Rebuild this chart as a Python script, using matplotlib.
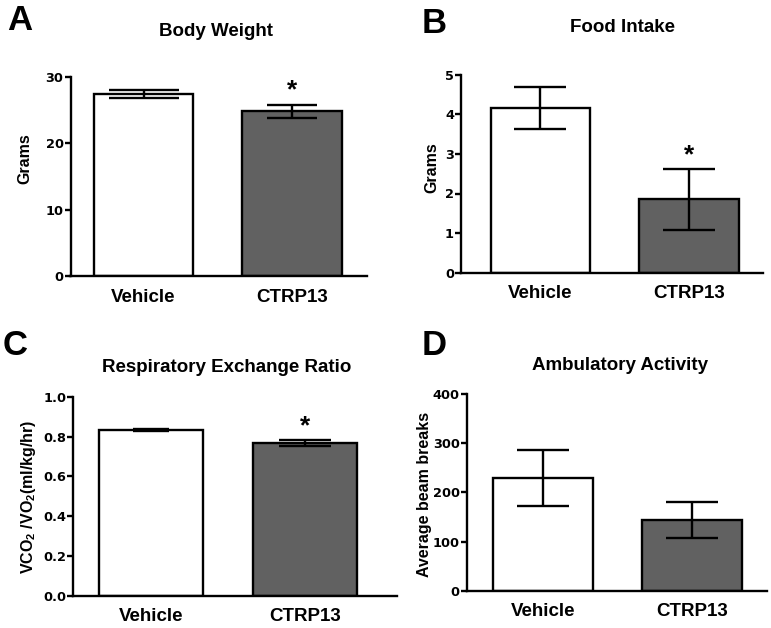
import matplotlib.pyplot as plt

plt.rcParams['font.family'] = ['Liberation Sans', 'DejaVu Sans']
plt.rcParams['font.weight'] = 'bold'
plt.rcParams['mathtext.fontset'] = 'custom'
plt.rcParams['mathtext.rm'] = 'Liberation Sans:bold'
plt.rcParams['mathtext.it'] = 'Liberation Sans:bold'
plt.rcParams['mathtext.bf'] = 'Liberation Sans:bold'

# Datos (media +/- error)
grupos = ['Vehicle', 'CTRP13']

peso_media = [27.4, 24.8]
peso_err = [0.6, 1.0]

comida_media = [4.15, 1.85]
comida_err = [0.53, 0.77]

rer_media = [0.833, 0.767]
rer_err = [0.005, 0.015]

ambul_media = [229, 144]
ambul_err = [57, 37]

COLORES = ['white', '#616161']
W, H = 771, 628


def rect(left, right, top, bottom):
    # pixeles -> fraccion de figura
    return [left / W, 1 - bottom / H, (right - left) / W, (bottom - top) / H]


def estilo_yticks(ax):
    for lab in ax.get_yticklabels():
        lab.set_fontfamily('DejaVu Sans')
        lab.set_fontweight('bold')
        lab.set_fontsize(9.3)


def panel(ax, medias, errores, yticks, xlim, caps, estrella=None):
    x = [0, 1]
    ax.bar(x, medias, width=0.67, color=COLORES, edgecolor='black', linewidth=1.7, zorder=2)
    for xi, m, e, c in zip(x, medias, errores, caps):
        ax.errorbar(xi, m, yerr=e, fmt='none', ecolor='black', elinewidth=1.7,
                    capsize=c, capthick=1.7, zorder=3)
    ax.set_xlim(*xlim)
    ax.set_ylim(yticks[0], yticks[-1])
    ax.set_yticks(yticks)
    ax.set_xticks(x)
    ax.set_xticklabels(grupos, fontsize=13.5, fontweight='bold')
    for s in ['top', 'right']:
        ax.spines[s].set_visible(False)
    for s in ['left', 'bottom']:
        ax.spines[s].set_linewidth(1.7)
    ax.tick_params(axis='x', length=0, pad=9)
    ax.tick_params(axis='y', length=4, width=1.7, pad=1)
    estilo_yticks(ax)
    if estrella is not None:
        ax.annotate('*', xy=(estrella, medias[estrella] + errores[estrella]),
                    xytext=(0, 1.5), textcoords='offset points', ha='center', va='bottom',
                    fontsize=19, fontweight='bold')


fig = plt.figure(figsize=(W / 100, H / 100), dpi=100)

axA = fig.add_axes(rect(70.5, 367, 77, 276))
panel(axA, peso_media, peso_err, [0, 10, 20, 30], (-0.493, 1.507), [25, 18], estrella=1)

axB = fig.add_axes(rect(461, 763, 74.7, 272.7))
panel(axB, comida_media, comida_err, [0, 1, 2, 3, 4, 5], (-0.535, 1.498), [18.5, 18.5], estrella=1)

axC = fig.add_axes(rect(73.3, 397.3, 396.7, 595.7))
panel(axC, rer_media, rer_err, [0.0, 0.2, 0.4, 0.6, 0.8, 1.0], (-0.505, 1.6), [13, 18.5], estrella=1)
axC.set_yticklabels(['0.0', '0.2', '0.4', '0.6', '0.8', '1.0'])
estilo_yticks(axC)

axD = fig.add_axes(rect(466.7, 766.7, 394, 590.7))
panel(axD, ambul_media, ambul_err, [0, 100, 200, 300, 400], (-0.512, 1.5), [18.5, 18.5])

# Titulos de cada panel
fig.text(216 / W, 1 - 31 / H, 'Body Weight', ha='center', va='center', fontsize=13.5, fontweight='bold')
fig.text(623 / W, 1 - 28 / H, 'Food Intake', ha='center', va='center', fontsize=13.5, fontweight='bold')
fig.text(227 / W, 1 - 367 / H, 'Respiratory Exchange Ratio', ha='center', va='center', fontsize=13.5, fontweight='bold')
fig.text(620 / W, 1 - 365 / H, 'Ambulatory Activity', ha='center', va='center', fontsize=13.5, fontweight='bold')

# Etiquetas del eje y
fig.text(25 / W, 1 - 159 / H, 'Grams', rotation=90, ha='center', va='center', fontsize=11.5, fontweight='bold')
fig.text(432 / W, 1 - 168 / H, 'Grams', rotation=90, ha='center', va='center', fontsize=11.5, fontweight='bold')
fig.text(28 / W, 1 - 497 / H, r'VCO$_2$ /VO$_2$(ml/kg/hr)', rotation=90, ha='center', va='center',
         fontsize=11.5, fontweight='bold')
fig.text(424 / W, 1 - 494 / H, 'Average beam breaks', rotation=90, ha='center', va='center',
         fontsize=11.5, fontweight='bold')

# Letras de los paneles
for letra, px, py in [('A', 7, 4), ('B', 422, 7), ('C', 3, 329), ('D', 422, 329)]:
    fig.text(px / W, 1 - py / H, letra, ha='left', va='top', fontsize=25, fontweight='bold')

fig.savefig('out.png', dpi=100)
